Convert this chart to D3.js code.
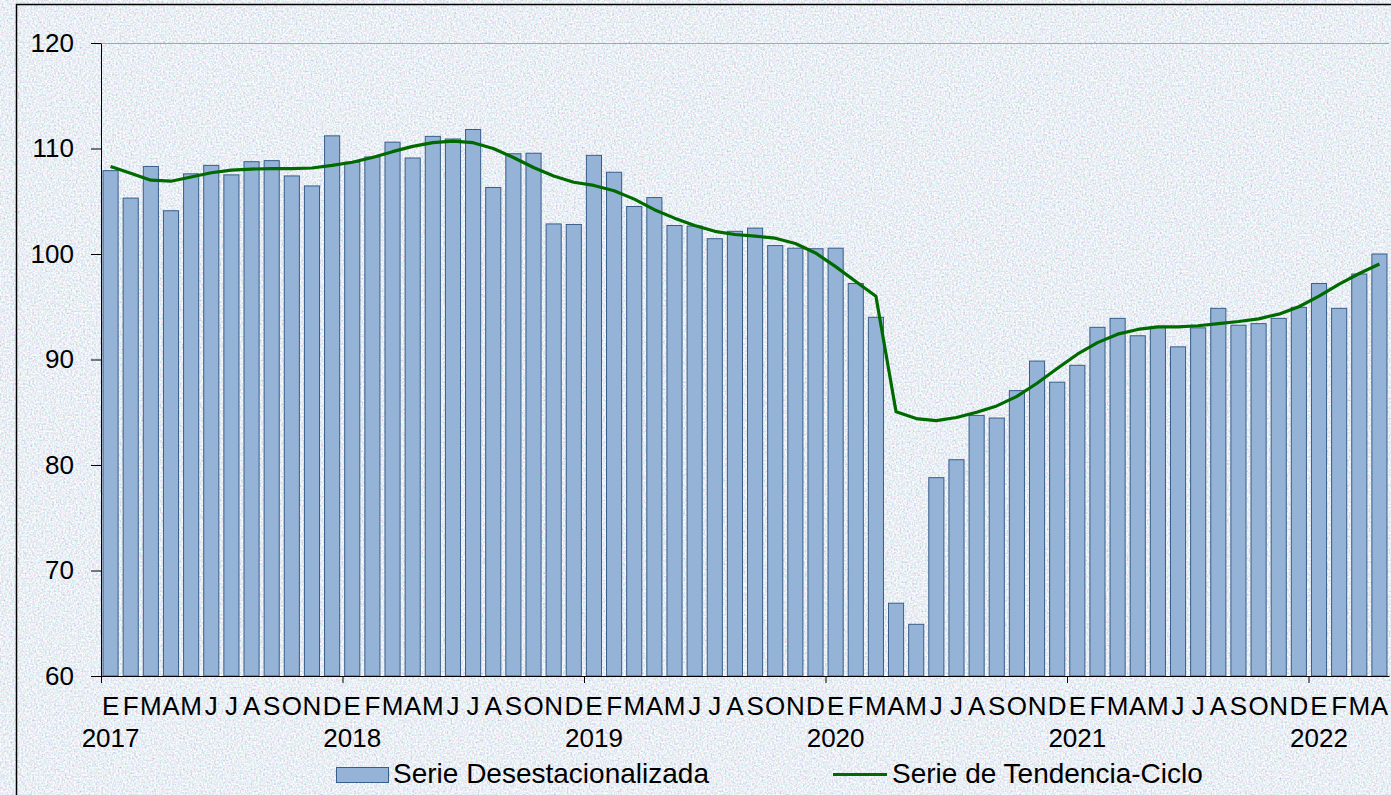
<!DOCTYPE html>
<html>
<head>
<meta charset="utf-8">
<script src="https://cdn.jsdelivr.net/npm/d3@7/dist/d3.min.js"></script>
<style>
	body { margin: 0; padding: 0; overflow: hidden; }
	text { font-family: 'Liberation Sans', Arial, sans-serif; fill: #000; }
</style>
</head>
<body>
<div id="chart"></div>
<script>
// month letters shown under each bar (Spanish initials)
var monthLetters = ['E','F','M','A','M','J','J','A','S','O','N','D'];
var years = ['2017', '2018', '2019', '2020', '2021', '2022'];

// Serie Desestacionalizada, Jan 2017 - Apr 2022
var desestacionalizada = [
	107.9, 105.3, 108.3, 104.1, 107.6, 108.4, 107.5, 108.75, 108.85, 107.4, 106.45, 111.2,
	108.7, 109.2, 110.6, 109.1, 111.15, 110.9, 111.8, 106.3, 109.5, 109.55, 102.85, 102.8,
	109.35, 107.75, 104.5, 105.35, 102.7, 102.65, 101.45, 102.15, 102.45, 100.8, 100.55, 100.5,
	100.55, 97.2, 94.0, 66.9, 64.9, 78.8, 80.5, 84.7, 84.45, 87.05, 89.85, 87.85,
	89.45, 93.05, 93.9, 92.25, 93.05, 91.2, 93.0, 94.85, 93.25, 93.4, 93.9, 94.95,
	97.2, 94.85, 98.1, 100.0
];

// Serie de Tendencia-Ciclo
var tendencia = [
	108.3, 107.65, 107.0, 106.9, 107.3, 107.7, 107.95, 108.05, 108.1, 108.1, 108.15, 108.4,
	108.7, 109.15, 109.7, 110.2, 110.55, 110.7, 110.55, 110.0, 109.15, 108.2, 107.4, 106.8,
	106.5, 106.0, 105.2, 104.2, 103.4, 102.7, 102.15, 101.85, 101.7, 101.5, 101.0, 100.1,
	98.8, 97.4, 96.0, 85.05, 84.4, 84.2, 84.5, 85.0, 85.6, 86.5, 87.75, 89.15,
	90.5, 91.6, 92.4, 92.85, 93.1, 93.1, 93.2, 93.4, 93.6, 93.85, 94.3, 95.0,
	96.0, 97.15, 98.15, 99.05
];

var yTicks = [60, 70, 80, 90, 100, 110, 120];

var width = 1391, height = 795;
var margin = {left: 101, right: 2, top: 43, bottom: 119};

var svg = d3.select('#chart')
	.append('svg')
	.attr('width', width)
	.attr('height', height);

// speckled paper background
var defs = svg.append('defs');
var noise = defs.append('filter')
	.attr('id', 'paper')
	.attr('x', 0).attr('y', 0)
	.attr('width', '100%').attr('height', '100%');
noise.append('feTurbulence')
	.attr('type', 'fractalNoise')
	.attr('baseFrequency', 0.55)
	.attr('numOctaves', 2)
	.attr('seed', 7);
noise.append('feColorMatrix')
	.attr('type', 'matrix')
	.attr('values', '0.55 0 0 0.55 0.27  0 0.45 0 0.55 0.36  0 0 0.35 0.55 0.46  0 0 0 0 1');

svg.append('rect')
	.attr('width', width)
	.attr('height', height)
	.attr('fill', '#d3dde8');
svg.append('rect')
	.attr('width', width)
	.attr('height', height)
	.attr('filter', 'url(#paper)');

// chart border
svg.append('rect')
	.attr('x', 16.5)
	.attr('y', 4.5)
	.attr('width', 1400)
	.attr('height', 820)
	.attr('fill', 'none')
	.attr('stroke', '#000')
	.attr('stroke-width', 1.5);

var plotW = width - margin.left - margin.right;
var plotH = height - margin.top - margin.bottom;

var months = d3.range(desestacionalizada.length);

var x = d3.scaleBand()
	.domain(months)
	.range([margin.left, margin.left + plotW])
	.paddingInner(0.25)
	.paddingOuter(0.1);

var xLin = d3.scaleLinear()
	.domain([0, months.length])
	.range([margin.left, margin.left + plotW]);

var y = d3.scaleLinear()
	.domain([60, 120])
	.range([margin.top + plotH, margin.top]);

// top gridline
svg.append('line')
	.attr('x1', margin.left)
	.attr('x2', margin.left + plotW)
	.attr('y1', y(120) + 0.5)
	.attr('y2', y(120) + 0.5)
	.attr('stroke', '#a6a6a6')
	.attr('stroke-width', 1);

// bars
svg.selectAll('.bar')
	.data(desestacionalizada)
	.enter().append('rect')
	.attr('class', 'bar')
	.attr('x', function(d, i) { return x(i); })
	.attr('y', function(d) { return y(d); })
	.attr('width', x.bandwidth())
	.attr('height', function(d) { return y(60) - y(d); })
	.attr('fill', '#95b3d7')
	.attr('stroke', '#385d8a')
	.attr('stroke-width', 1);

// trend line
var line = d3.line()
	.curve(d3.curveLinear)
	.x(function(d, i) { return x(i) + x.bandwidth() / 2; })
	.y(function(d) { return y(d); });

svg.append('path')
	.datum(tendencia)
	.attr('fill', 'none')
	.attr('stroke', '#006a00')
	.attr('stroke-width', 3.2)
	.attr('stroke-linejoin', 'round')
	.attr('d', line);

// y axis
var yAxis = d3.axisLeft(y)
	.tickValues(yTicks)
	.tickSize(10)
	.tickSizeOuter(0)
	.tickPadding(17);

svg.append('g')
	.attr('class', 'axis axis--y')
	.attr('transform', 'translate(' + margin.left + ',0)')
	.call(yAxis)
	.call(function(g) {
		g.selectAll('text').attr('font-size', 26).attr('font-family', null);
		g.selectAll('line, path').attr('stroke', '#000');
	});

// x axis, ticks at each year start
var xAxis = d3.axisBottom(xLin)
	.tickValues(d3.range(0, months.length, 12))
	.tickFormat('')
	.tickSize(7)
	.tickSizeOuter(0);

svg.append('g')
	.attr('class', 'axis axis--x')
	.attr('transform', 'translate(0,' + (margin.top + plotH) + ')')
	.call(xAxis)
	.call(function(g) {
		g.selectAll('line, path').attr('stroke', '#000');
	});

svg.selectAll('.monthLabel')
	.data(months)
	.enter().append('text')
	.attr('class', 'monthLabel')
	.attr('x', function(d) { return x(d) + x.bandwidth() / 2; })
	.attr('y', 715)
	.attr('text-anchor', 'middle')
	.attr('font-size', 26)
	.text(function(d) { return monthLetters[d % 12]; });

svg.selectAll('.yearLabel')
	.data(years)
	.enter().append('text')
	.attr('class', 'yearLabel')
	.attr('x', function(d, i) { return x(i * 12) + x.bandwidth() / 2; })
	.attr('y', 747)
	.attr('text-anchor', 'middle')
	.attr('font-size', 26)
	.text(function(d) { return d; });

// legend
var legend = svg.append('g').attr('class', 'legend');

legend.append('rect')
	.attr('x', 336.5)
	.attr('y', 767.5)
	.attr('width', 52)
	.attr('height', 15)
	.attr('fill', '#95b3d7')
	.attr('stroke', '#385d8a');

legend.append('text')
	.attr('x', 393)
	.attr('y', 783)
	.attr('font-size', 28)
	.text('Serie Desestacionalizada');

legend.append('line')
	.attr('x1', 833)
	.attr('x2', 887)
	.attr('y1', 774.5)
	.attr('y2', 774.5)
	.attr('stroke', '#006a00')
	.attr('stroke-width', 3.2);

legend.append('text')
	.attr('x', 892)
	.attr('y', 783)
	.attr('font-size', 28)
	.text('Serie de Tendencia-Ciclo');
</script>
</body>
</html>
